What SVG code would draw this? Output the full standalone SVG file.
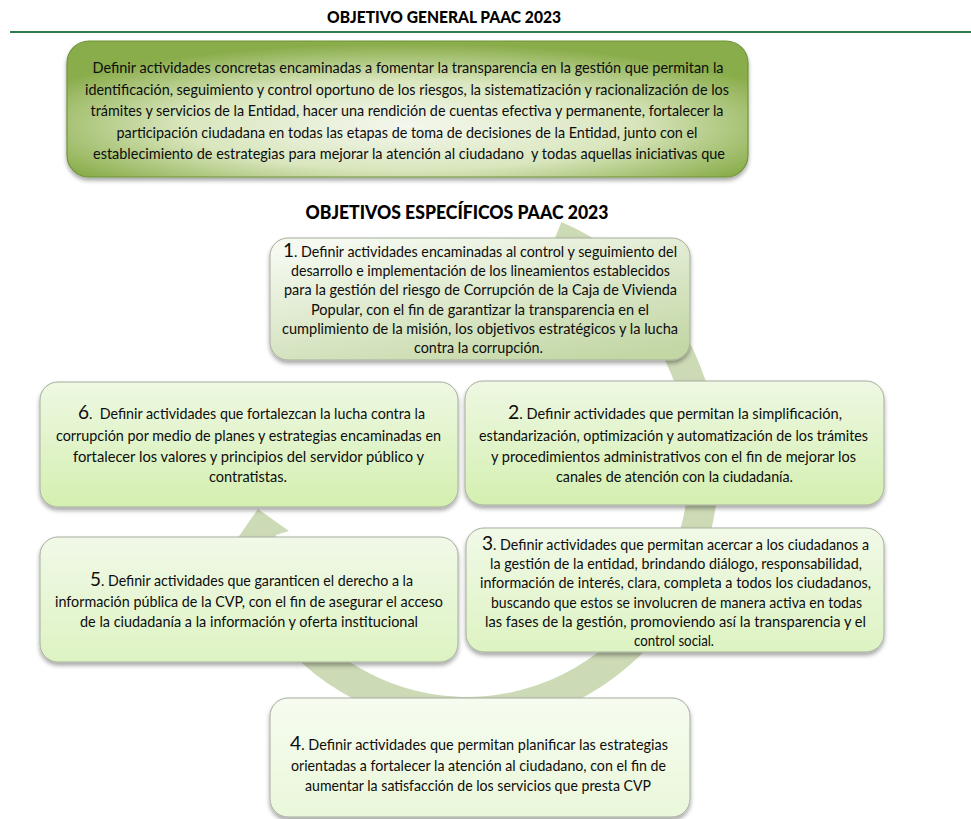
<svg xmlns="http://www.w3.org/2000/svg" width="971" height="819" viewBox="0 0 971 819">
<defs>
<style>
.t{font-family:Lato,"Open Sans","Liberation Sans",sans-serif;font-size:15px;fill:#0d0d0d;text-anchor:middle}
.g{font-family:Lato,"Open Sans","Liberation Sans",sans-serif;font-size:15px;fill:#0d0d0d;text-anchor:middle}
.h{font-family:Lato,"Open Sans","Liberation Sans",sans-serif;font-weight:900;fill:#000;text-anchor:middle}
.n{font-size:20px}
.box{stroke:#a6ad9e;stroke-width:1;filter:url(#sh)}
</style>
<filter id="sh" x="-10%" y="-10%" width="120%" height="130%">
<feDropShadow dx="0" dy="3" stdDeviation="2" flood-color="#000" flood-opacity="0.35"/>
</filter>
<radialGradient id="gGen" cx="0.5" cy="0.62" r="0.6">
<stop offset="0" stop-color="#f4f7ee"/>
<stop offset="0.55" stop-color="#d9e6bd"/>
<stop offset="1" stop-color="#8aad4b"/>
</radialGradient>
<linearGradient id="g1" x1="0.2" y1="0" x2="0.8" y2="1">
<stop offset="0" stop-color="#f5f9f0"/>
<stop offset="1" stop-color="#c3d7a5"/>
</linearGradient>
<linearGradient id="g2" x1="0" y1="0" x2="0" y2="1">
<stop offset="0" stop-color="#eef8e3"/>
<stop offset="1" stop-color="#d4efb0"/>
</linearGradient>
<linearGradient id="g3" x1="0" y1="0" x2="0" y2="1">
<stop offset="0" stop-color="#f1f9e8"/>
<stop offset="1" stop-color="#ddf3c2"/>
</linearGradient>
<linearGradient id="g4" x1="0" y1="0" x2="0" y2="1">
<stop offset="0" stop-color="#f6fcf0"/>
<stop offset="1" stop-color="#eaf7da"/>
</linearGradient>
</defs>
<rect x="0" y="0" width="971" height="819" fill="#ffffff"/>

<g id="header">
<text class="h" x="444" y="22.5" font-size="17" textLength="234" lengthAdjust="spacingAndGlyphs">OBJETIVO GENERAL PAAC 2023</text>
<line x1="10" y1="32" x2="971" y2="32" stroke="#2f7d4f" stroke-width="2"/>
</g>

<g id="general">
<rect x="67" y="41" width="681" height="136" rx="22" ry="22" fill="url(#gGen)" stroke="#6f9438" stroke-width="1.2" filter="url(#sh)"/>
<text class="g" x="408" y="73" textLength="631" lengthAdjust="spacingAndGlyphs">Definir actividades concretas encaminadas a fomentar la transparencia en la gestión que permitan la</text>
<text class="g" x="407" y="94.5" textLength="644" lengthAdjust="spacingAndGlyphs">identificación, seguimiento y control oportuno de los riesgos, la sistematización y racionalización de los</text>
<text class="g" x="407" y="116" textLength="633" lengthAdjust="spacingAndGlyphs">trámites y servicios de la Entidad, hacer una rendición de cuentas efectiva y permanente, fortalecer la</text>
<text class="g" x="407" y="137.5" textLength="581" lengthAdjust="spacingAndGlyphs">participación ciudadana en todas las etapas de toma de decisiones de la Entidad, junto con el</text>
<text class="g" x="409" y="159" textLength="632" lengthAdjust="spacingAndGlyphs">establecimiento de estrategias para mejorar la atención al ciudadano&#160; y todas aquellas iniciativas que</text>
</g>

<g id="subtitle">
<text class="h" x="457" y="219" font-size="19" textLength="303" lengthAdjust="spacingAndGlyphs">OBJETIVOS ESPECÍFICOS PAAC 2023</text>
</g>

<g id="connectors">
<path d="M 561.4 222.1 A 252 262 0 1 1 238.6 575.7 L 205 585 L 258 509 L 289 531 L 276 535 L 265.8 563 A 222 232 0 1 0 550.2 249.9 Z" fill="#cddab6"/>
</g>

<g id="obj1">
<rect class="box" x="270" y="238" width="420" height="122" rx="18" ry="18" fill="url(#g1)"/>
<text class="t" x="480" y="257" textLength="394" lengthAdjust="spacingAndGlyphs"><tspan class="n">1</tspan>. Definir actividades encaminadas al control y seguimiento del</text>
<text class="t" x="480.5" y="276" textLength="379" lengthAdjust="spacingAndGlyphs">desarrollo e implementación de los lineamientos establecidos</text>
<text class="t" x="480.5" y="295" textLength="393" lengthAdjust="spacingAndGlyphs">para la gestión del riesgo de Corrupción de la Caja de Vivienda</text>
<text class="t" x="480" y="314.5" textLength="338" lengthAdjust="spacingAndGlyphs">Popular, con el fin de garantizar la transparencia en el</text>
<text class="t" x="480" y="333.5" textLength="396" lengthAdjust="spacingAndGlyphs">cumplimiento de la misión, los objetivos estratégicos y la lucha</text>
<text class="t" x="478.5" y="352.5" textLength="129" lengthAdjust="spacingAndGlyphs">contra la corrupción.</text>
</g>

<g id="obj6">
<rect class="box" x="40" y="382" width="418" height="125" rx="18" ry="18" fill="url(#g2)"/>
<text class="t" x="251.5" y="419" textLength="347" lengthAdjust="spacingAndGlyphs"><tspan class="n">6</tspan>.&#160; Definir actividades que fortalezcan la lucha contra la</text>
<text class="t" x="248.5" y="440.5" textLength="385" lengthAdjust="spacingAndGlyphs">corrupción por medio de planes y estrategias encaminadas en</text>
<text class="t" x="248.5" y="461.5" textLength="351" lengthAdjust="spacingAndGlyphs">fortalecer los valores y principios del servidor público y</text>
<text class="t" x="248" y="481.5" textLength="78" lengthAdjust="spacingAndGlyphs">contratistas.</text>
</g>

<g id="obj2">
<rect class="box" x="465" y="381" width="419" height="124" rx="18" ry="18" fill="url(#g2)"/>
<text class="t" x="675" y="419" textLength="334" lengthAdjust="spacingAndGlyphs"><tspan class="n">2</tspan>. Definir actividades que permitan la simplificación,</text>
<text class="t" x="673.5" y="440.5" textLength="389" lengthAdjust="spacingAndGlyphs">estandarización, optimización y automatización de los trámites</text>
<text class="t" x="673.5" y="461.5" textLength="365" lengthAdjust="spacingAndGlyphs">y procedimientos administrativos con el fin de mejorar los</text>
<text class="t" x="674.5" y="481.5" textLength="237" lengthAdjust="spacingAndGlyphs">canales de atención con la ciudadanía.</text>
</g>

<g id="obj5">
<rect class="box" x="40" y="537" width="418" height="125" rx="18" ry="18" fill="url(#g3)"/>
<text class="t" x="251.5" y="586" textLength="323" lengthAdjust="spacingAndGlyphs"><tspan class="n">5</tspan>. Definir actividades que garanticen el derecho a la</text>
<text class="t" x="249" y="606.5" textLength="388" lengthAdjust="spacingAndGlyphs">información pública de la CVP, con el fin de asegurar el acceso</text>
<text class="t" x="249" y="626.5" textLength="338" lengthAdjust="spacingAndGlyphs">de la ciudadanía a la información y oferta institucional</text>
</g>

<g id="obj3">
<rect class="box" x="466" y="528" width="418" height="124" rx="18" ry="18" fill="url(#g3)"/>
<text class="t" x="675.5" y="550" textLength="387" lengthAdjust="spacingAndGlyphs"><tspan class="n">3</tspan>. Definir actividades que permitan acercar a los ciudadanos a</text>
<text class="t" x="676" y="568.5" textLength="372" lengthAdjust="spacingAndGlyphs">la gestión de la entidad, brindando diálogo, responsabilidad,</text>
<text class="t" x="675.5" y="588" textLength="391" lengthAdjust="spacingAndGlyphs">información de interés, clara, completa a todos los ciudadanos,</text>
<text class="t" x="676.5" y="607.5" textLength="371" lengthAdjust="spacingAndGlyphs">buscando que estos se involucren de manera activa en todas</text>
<text class="t" x="675.5" y="626.5" textLength="381" lengthAdjust="spacingAndGlyphs">las fases de la gestión, promoviendo así la transparencia y el</text>
<text class="t" x="674" y="645.5" textLength="80" lengthAdjust="spacingAndGlyphs">control social.</text>
</g>

<g id="obj4">
<rect class="box" x="270" y="698" width="420" height="119" rx="18" ry="18" fill="url(#g4)"/>
<text class="t" x="479" y="750" textLength="378" lengthAdjust="spacingAndGlyphs"><tspan class="n">4</tspan>. Definir actividades que permitan planificar las estrategias</text>
<text class="t" x="478.5" y="770.5" textLength="375" lengthAdjust="spacingAndGlyphs">orientadas a fortalecer la atención al ciudadano, con el fin de</text>
<text class="t" x="478" y="790.5" textLength="346" lengthAdjust="spacingAndGlyphs">aumentar la satisfacción de los servicios que presta CVP</text>
</g>
</svg>
